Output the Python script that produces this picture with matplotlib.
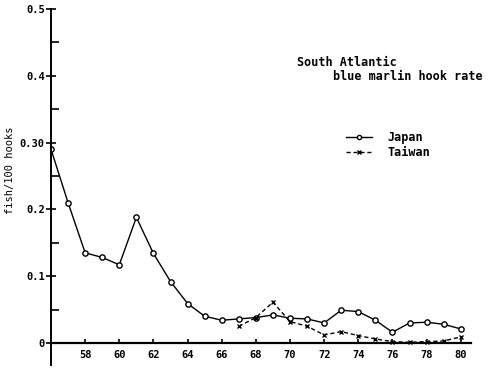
import matplotlib.pyplot as plt
import numpy as np

# hook rates (fish / 100 hooks)
years_jp = list(range(56, 81))
japan = [0.29, 0.21, 0.135, 0.128, 0.117, 0.188, 0.134, 0.092, 0.059, 0.040,
         0.034, 0.036, 0.038, 0.042, 0.037, 0.036, 0.030, 0.049, 0.047, 0.034,
         0.016, 0.030, 0.031, 0.028, 0.021]
years_tw = list(range(67, 81))
taiwan = [0.025, 0.038, 0.061, 0.032, 0.025, 0.012, 0.017, 0.011, 0.006, 0.002,
          0.001, 0.002, 0.003, 0.009]

yticks = [0, 0.1, 0.2, 0.3, 0.4, 0.5]
ylabels = ["0", "0.1", "0.2", "0.30", "0.4", "0.5"]
xticks = list(range(58, 81, 2))

plt.rcParams['font.family'] = 'DejaVu Sans Mono'
plt.rcParams['font.weight'] = 'bold'

fig = plt.figure(figsize=(4.95, 3.74), dpi=100)
ax = fig.add_axes([51 / 495, 9 / 374, 420 / 495, 356 / 374])

ax.plot(years_jp, japan, color='black', lw=1.0, marker='o', ms=3.8,
        mfc='white', mec='black', mew=1.0, label='Japan')
ax.plot(years_tw, taiwan, color='black', lw=1.0, ls=(0, (3, 2)), marker='x',
        ms=3.5, mew=1.0, label='Taiwan')

ax.set_xlim(56, 80.6)
ax.set_ylim(-0.033, 0.5)
for s in ['top', 'right']:
    ax.spines[s].set_visible(False)
ax.spines['bottom'].set_position(('data', 0))
ax.spines['bottom'].set_linewidth(1.6)
ax.spines['left'].set_linewidth(1.4)

ax.set_yticks(yticks)
ax.set_yticklabels(ylabels, fontsize=7.5)
ax.set_yticks(np.arange(0.05, 0.5, 0.1), minor=True)
ax.tick_params(axis='y', which='major', direction='inout', length=7, width=1.2, pad=1)
ax.tick_params(axis='y', which='minor', direction='in', length=6, width=1.2)

ax.set_xticks(xticks)
ax.set_xticklabels([str(x) for x in xticks], fontsize=7.5)
ax.tick_params(axis='x', direction='in', length=3, width=1.2, pad=5)

ax.set_ylabel('fish/100 hooks', fontsize=7.5)
ax.yaxis.set_label_coords(-0.085, 0.548)

ax.text(297 / 495, 1 - 63 / 374, 'South Atlantic', transform=fig.transFigure,
        fontsize=8.5, va='center')
ax.text(333 / 495, 1 - 76 / 374, 'blue marlin hook rate', transform=fig.transFigure,
        fontsize=8.5, va='center')

ax.legend(loc='upper left', bbox_to_anchor=(346 / 495, 1 - 131 / 374),
          bbox_transform=fig.transFigure, frameon=False, fontsize=8.5,
          handlelength=2.2, handletextpad=1.3, labelspacing=0.15,
          borderpad=0, borderaxespad=0, markerscale=0.8)

fig.savefig('out.png', dpi=100)
